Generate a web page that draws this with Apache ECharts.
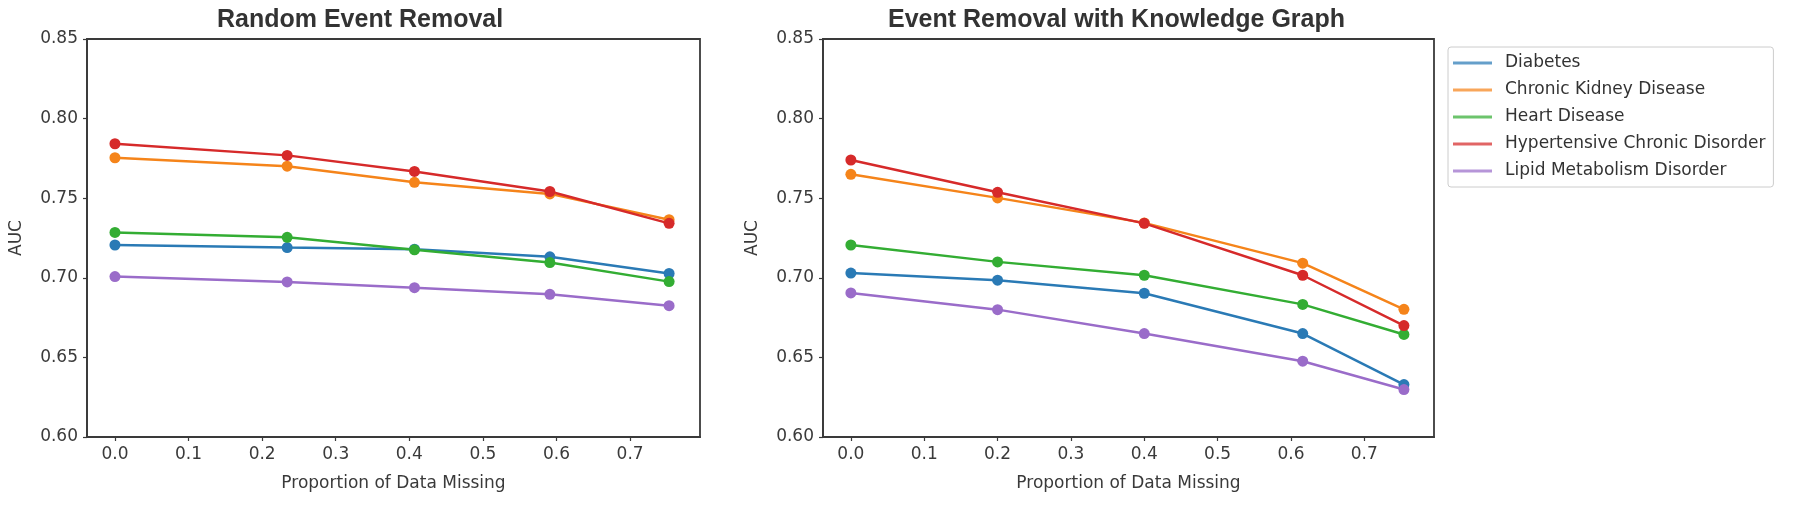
<!DOCTYPE html>
<html>
<head>
<meta charset="utf-8">
<script src="https://cdn.jsdelivr.net/npm/echarts@6/dist/echarts.min.js"></script>
<style>
html,body{margin:0;padding:0;background:#fff;}
#c{width:1800px;height:505px;}
</style>
</head>
<body>
<div id="c"></div>
<script>
// ---- data ----
const seriesNames = ['Diabetes', 'Chronic Kidney Disease', 'Heart Disease', 'Hypertensive Chronic Disorder', 'Lipid Metabolism Disorder'];
const colors = ['#2a7ab5', '#f5841a', '#33ad33', '#d62a2a', '#9a6cc9'];

// Left panel: Random Event Removal
const xRandom = [0.0, 0.234, 0.407, 0.591, 0.753];
const randomDiabetes = [0.7206, 0.7190, 0.7180, 0.7132, 0.7027];
const randomCKD      = [0.7754, 0.7701, 0.7600, 0.7527, 0.7365];
const randomHeart    = [0.7285, 0.7254, 0.7176, 0.7096, 0.6976];
const randomHyper    = [0.7842, 0.7769, 0.7668, 0.7542, 0.7342];
const randomLipid    = [0.7008, 0.6974, 0.6938, 0.6896, 0.6825];

// Right panel: Event Removal with Knowledge Graph
const xKG = [0.0, 0.2, 0.4, 0.616, 0.754];
const kgDiabetes = [0.7030, 0.6985, 0.6903, 0.6650, 0.6329];
const kgCKD      = [0.7650, 0.7502, 0.7345, 0.7092, 0.6802];
const kgHeart    = [0.7206, 0.7100, 0.7016, 0.6833, 0.6644];
const kgHyper    = [0.7740, 0.7537, 0.7342, 0.7016, 0.6700];
const kgLipid    = [0.6905, 0.6800, 0.6650, 0.6476, 0.6298];

const xTicks = [0.0, 0.1, 0.2, 0.3, 0.4, 0.5, 0.6, 0.7];
const yTicks = [0.60, 0.65, 0.70, 0.75, 0.80, 0.85];

const titles = ['Random Event Removal', 'Event Removal with Knowledge Graph'];
const xAxisTitle = 'Proportion of Data Missing';
const yAxisTitle = 'AUC';

// ---- chart ----
const randomSets = [randomDiabetes, randomCKD, randomHeart, randomHyper, randomLipid];
const kgSets = [kgDiabetes, kgCKD, kgHeart, kgHyper, kgLipid];

const tickFont = {fontFamily: 'DejaVu Sans', fontSize: 17, color: '#3a3a3a'};
const frameColor = '#3a3a3a';

function makeX(gridIndex) {
  return {
    type: 'value', gridIndex: gridIndex, min: -0.038, max: 0.795,
    name: xAxisTitle, nameLocation: 'middle', nameGap: 38,
    nameTextStyle: {fontFamily: 'DejaVu Sans', fontSize: 17, color: '#3a3a3a'},
    axisLine: {show: true, onZero: false, lineStyle: {color: frameColor, width: 1.8}},
    axisTick: {show: true, length: 4, lineStyle: {color: frameColor, width: 1.2}, customValues: xTicks},
    axisLabel: Object.assign({margin: 9, customValues: xTicks, formatter: v => v.toFixed(1)}, tickFont),
    splitLine: {show: false}
  };
}
function makeY(gridIndex) {
  return {
    type: 'value', gridIndex: gridIndex, min: 0.6, max: 0.85,
    name: yAxisTitle, nameLocation: 'middle', nameGap: 62, nameRotate: 90,
    nameTextStyle: {fontFamily: 'DejaVu Sans', fontSize: 17, color: '#3a3a3a'},
    axisLine: {show: true, onZero: false, lineStyle: {color: frameColor, width: 1.8}},
    axisTick: {show: true, length: 4, lineStyle: {color: frameColor, width: 1.2}, customValues: yTicks},
    axisLabel: Object.assign({margin: 9, customValues: yTicks, formatter: v => v.toFixed(2)}, tickFont),
    splitLine: {show: false}
  };
}

const series = [];
[xRandom, xKG].forEach((xs, gi) => {
  const sets = gi === 0 ? randomSets : kgSets;
  sets.forEach((vals, si) => {
    series.push({
      name: seriesNames[si], type: 'line', xAxisIndex: gi, yAxisIndex: gi,
      data: xs.map((x, i) => [x, vals[i]]),
      symbol: 'circle', symbolSize: 11,
      lineStyle: {width: 2.5, color: colors[si]},
      itemStyle: {color: colors[si]},
      emphasis: {disabled: true},
      animation: false
    });
  });
});

const chart = echarts.init(document.getElementById('c'));
chart.setOption({
  animation: false,
  color: colors,
  title: [
    {text: titles[0], left: 212, top: 3, textStyle: {fontFamily: 'Liberation Sans', fontWeight: 'bold', fontSize: 25, color: '#333'}},
    {text: titles[1], left: 883, top: 3, textStyle: {fontFamily: 'Liberation Sans', fontWeight: 'bold', fontSize: 25, color: '#333'}}
  ],
  grid: [
    {left: 87, top: 39, width: 613, height: 398, show: true, borderColor: frameColor, borderWidth: 1.8, backgroundColor: '#fff'},
    {left: 823, top: 39, width: 611, height: 398, show: true, borderColor: frameColor, borderWidth: 1.8, backgroundColor: '#fff'}
  ],
  xAxis: [makeX(0), makeX(1)],
  yAxis: [makeY(0), makeY(1)],
  legend: {
    data: seriesNames,
    orient: 'vertical', left: 1448, top: 47,
    icon: 'rect', itemWidth: 39, itemHeight: 3, itemGap: 7,
    itemStyle: {opacity: 0.72},
    textStyle: {fontFamily: 'DejaVu Sans', fontSize: 17, color: '#333', lineHeight: 20, padding: [0, 0, 0, 8]},
    borderColor: '#cccccc', borderWidth: 1, borderRadius: 3,
    padding: [6, 8, 6, 5],
    selectedMode: false
  },
  series: series
});
</script>
</body>
</html>
